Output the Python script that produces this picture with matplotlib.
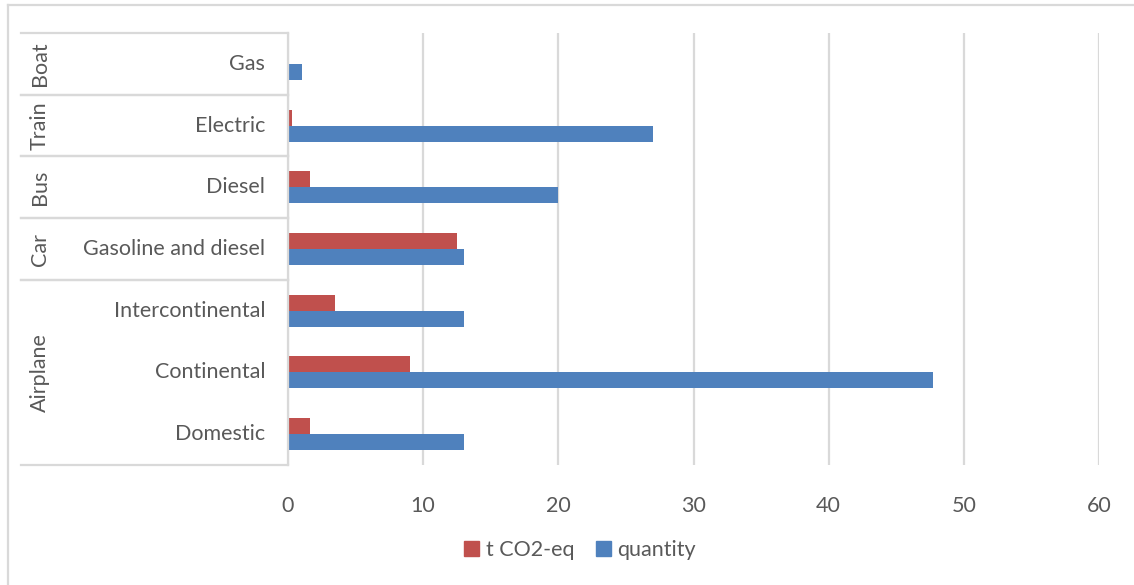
import matplotlib.pyplot as plt
from matplotlib.patches import Patch
import matplotlib.transforms as mtransforms

# bottom to top, as the chart lists them
modes = ["Domestic", "Continental", "Intercontinental", "Gasoline and diesel",
         "Diesel", "Electric", "Gas"]
groups = ["Airplane", "Car", "Bus", "Train", "Boat"]
group_spans = [(0, 2), (3, 3), (4, 4), (5, 5), (6, 6)]
co2 = [1.6, 9.0, 3.5, 12.5, 1.6, 0.3, 0.0]
quantity = [13, 47.7, 13, 13, 20, 27, 1]

RED = "#C0504D"
BLUE = "#4F81BD"
GRID = "#D9D9D9"
TXT = "#595959"
FS = 15.5

plt.rcParams['font.family'] = ['Lato', 'DejaVu Sans']

fig = plt.figure(figsize=(11.34, 5.85), dpi=100)
ax = fig.add_axes([288/1134, 1 - 465/585, 811/1134, 432/585])

y = list(range(len(modes)))
h = 0.26
ax.barh([v + h/2 for v in y], co2, height=h, color=RED, label="t CO2-eq")
ax.barh([v - h/2 for v in y], quantity, height=h, color=BLUE, label="quantity")

ax.set_xlim(0, 60)
ax.set_ylim(-0.5, len(modes) - 0.5)
ax.set_xticks(range(0, 61, 10))
ax.set_yticks([])
ax.xaxis.grid(True, color=GRID, lw=1.6)
ax.set_axisbelow(True)
ax.tick_params(axis='x', length=0, pad=22, labelsize=FS, labelcolor=TXT)
for s in ("top", "right", "bottom"):
    ax.spines[s].set_visible(False)
ax.spines["left"].set_color(GRID)
ax.spines["left"].set_linewidth(1.6)

# two-level category table on the left
trans = mtransforms.blended_transform_factory(ax.transAxes, ax.transData)
left = (21 - 288) / 811
for lo, hi in group_spans:
    for b in (lo - 0.5, hi + 0.5):
        ax.plot([left, 0], [b, b], color=GRID, lw=1.6, transform=trans, clip_on=False)
for name, (lo, hi) in zip(groups, group_spans):
    ax.text((40 - 288) / 811, (lo + hi) / 2, name, rotation=90, ha='center', va='center',
            fontsize=FS, color=TXT, transform=trans)
for i, m in enumerate(modes):
    ax.text(-23 / 811, i, m, ha='right', va='center', fontsize=FS, color=TXT,
            transform=trans)

# outer chart frame
fig.add_artist(plt.Line2D([8/1134, 8/1134], [0, 1 - 5/585], color=GRID, lw=1.6))
fig.add_artist(plt.Line2D([8/1134, 1], [1 - 5/585, 1 - 5/585], color=GRID, lw=1.6))

handles = [Patch(color=RED, label="t CO2-eq"), Patch(color=BLUE, label="quantity")]
leg = fig.legend(handles=handles, loc='center', bbox_to_anchor=(580/1134, 1 - 550/585),
                 ncol=2, frameon=False, fontsize=FS, handlelength=0.7, handleheight=0.7,
                 handletextpad=0.3, columnspacing=1.0)
for t in leg.get_texts():
    t.set_color(TXT)

fig.savefig("out.png", dpi=100)
